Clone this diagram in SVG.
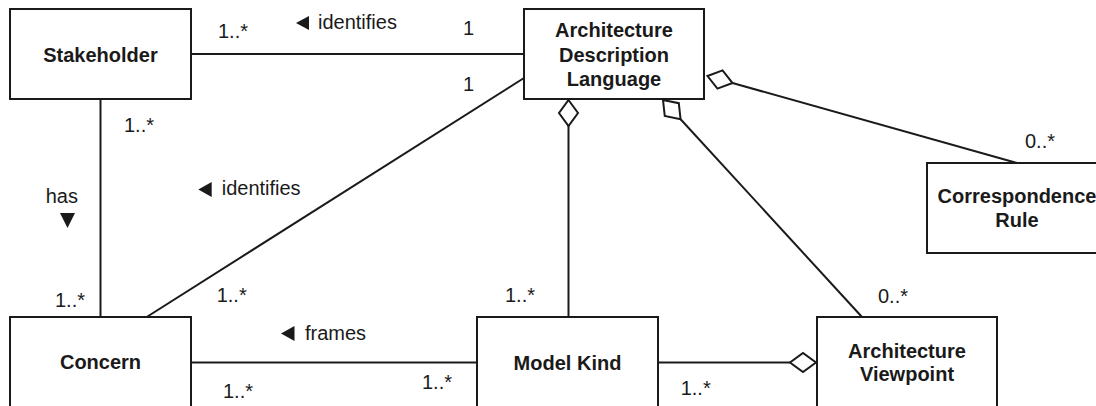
<svg xmlns="http://www.w3.org/2000/svg" width="1096" height="406" viewBox="0 0 1096 406">
<style>
.box{fill:#fff;stroke:#1a1a1a;stroke-width:2}
.name{font-family:"Liberation Sans",Arial,sans-serif;font-size:20px;font-weight:bold;fill:#1a1a1a;text-anchor:middle}
.lbl{font-family:"Liberation Sans",Arial,sans-serif;font-size:20px;fill:#1a1a1a}
.ln{stroke:#1a1a1a;stroke-width:2;fill:none}
.dia{fill:#fff;stroke:#1a1a1a;stroke-width:2}
.tri{fill:#1a1a1a}
</style>
<defs>
<path id="diamond" d="M0,0 L13,-9.5 L26,0 L13,9.5 Z"/>
</defs>
<rect width="1096" height="406" fill="#fff"/>
<g id="connectors">
<line class="ln" x1="191" y1="54" x2="524" y2="54"/>
<line class="ln" x1="100.5" y1="99" x2="100.5" y2="317"/>
<line class="ln" x1="524" y1="78" x2="146.7" y2="317"/>
<line class="ln" x1="191" y1="362.5" x2="477" y2="362.5"/>
<line class="ln" x1="568.5" y1="126" x2="568.5" y2="317"/>
<line class="ln" x1="658" y1="362.5" x2="790" y2="362.5"/>
<line class="ln" x1="680.6" y1="119.2" x2="862" y2="317"/>
<line class="ln" x1="732.5" y1="83" x2="1017" y2="163"/>
<use href="#diamond" class="dia" transform="translate(568.5,100) rotate(90)"/>
<use href="#diamond" class="dia" transform="translate(663,100) rotate(47.5)"/>
<use href="#diamond" class="dia" transform="translate(707.5,76) rotate(15.7)"/>
<use href="#diamond" class="dia" transform="translate(816,362.5) rotate(180)"/>
<text class="lbl" x="218" y="38">1..*</text>
<polygon class="tri" points="296,23 309,16 309,30"/>
<text class="lbl" x="318" y="29.3">identifies</text>
<text class="lbl" x="463" y="35">1</text>
<text class="lbl" x="463" y="90.7">1</text>
<text class="lbl" x="124" y="131.7">1..*</text>
<text class="lbl" x="45.7" y="202.7">has</text>
<polygon class="tri" points="60,213 75,213 67.5,228"/>
<polygon class="tri" points="198.3,189.5 211.7,182 211.7,197"/>
<text class="lbl" x="221.7" y="195">identifies</text>
<text class="lbl" x="55" y="306.7">1..*</text>
<text class="lbl" x="216.7" y="301.7">1..*</text>
<polygon class="tri" points="281,333.5 294.5,326 294.5,341"/>
<text class="lbl" x="305" y="340">frames</text>
<text class="lbl" x="223" y="398.3">1..*</text>
<text class="lbl" x="422" y="389">1..*</text>
<text class="lbl" x="505" y="301.7">1..*</text>
<text class="lbl" x="680.7" y="395">1..*</text>
<text class="lbl" x="878" y="303">0..*</text>
<text class="lbl" x="1025" y="148">0..*</text>
</g>
<g id="stakeholder">
<rect class="box" x="10" y="9" width="181" height="90"/>
<text class="name" x="100.5" y="61.5">Stakeholder</text>
</g>
<g id="adl">
<rect class="box" x="524" y="9" width="180" height="90"/>
<text class="name" x="614" y="37">Architecture</text>
<text class="name" x="614" y="61.5">Description</text>
<text class="name" x="614" y="86">Language</text>
</g>
<g id="correspondence-rule">
<rect class="box" x="927" y="163" width="180" height="90"/>
<text class="name" x="1017" y="203">Correspondence</text>
<text class="name" x="1017" y="227">Rule</text>
</g>
<g id="concern">
<rect class="box" x="10" y="317" width="181" height="100"/>
<text class="name" x="100.5" y="369">Concern</text>
</g>
<g id="model-kind">
<rect class="box" x="477" y="317" width="181" height="100"/>
<text class="name" x="567.5" y="370">Model Kind</text>
</g>
<g id="architecture-viewpoint">
<rect class="box" x="817" y="317" width="180" height="100"/>
<text class="name" x="907" y="358">Architecture</text>
<text class="name" x="907" y="381">Viewpoint</text>
</g>
</svg>
